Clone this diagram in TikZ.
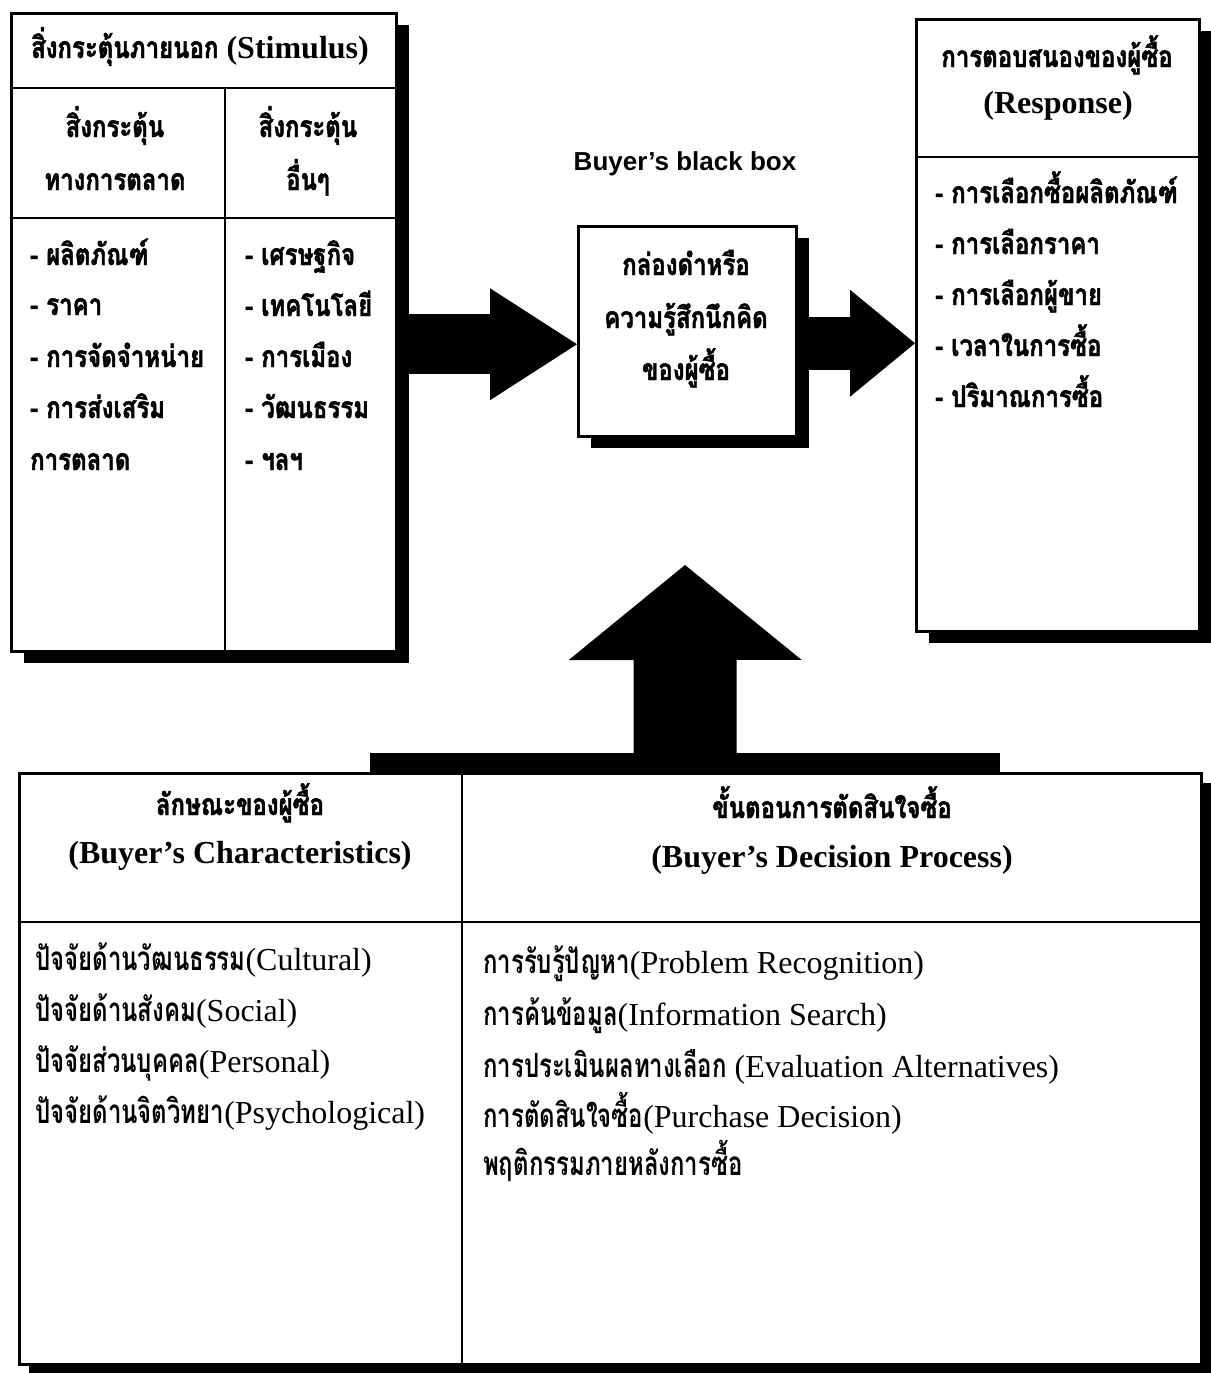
\documentclass[tikz,border=0pt]{standalone}
\usepackage{fontspec}
\setmainfont{Liberation Serif}
\newfontfamily\thaifont[Script=Thai,FakeStretch=0.8,FakeBold=1.5]{Loma}
\newfontfamily\thaifontb[Script=Thai,Scale=1.04,FakeStretch=0.72]{Loma}
\newfontfamily\sansf{Liberation Sans}
\usetikzlibrary{calc,arrows.meta,shadows}
\newcommand{\thx}[1]{{\thaifontb\bfseries #1}}
\newcommand{\thh}[1]{{\fontsize{30}{34}\selectfont\thaifont\bfseries #1}}
\begin{document}
\begin{tikzpicture}[x=1pt,y=-1pt,
  box/.style={draw=black, line width=2.5pt, fill=white, rectangle, inner sep=0pt, anchor=north west},
  shad/.style={general shadow={fill=black, shadow xshift=13pt, shadow yshift=-12pt}},
  shadsmall/.style={general shadow={fill=black, shadow xshift=10pt, shadow yshift=-10pt}},
  divline/.style={line width=2.5pt},
  thaitxt/.style={font=\fontsize{30}{34}\selectfont\thaifont\bfseries, inner sep=0pt},
  serif/.style={font=\fontsize{32}{36}\selectfont, inner sep=0pt},
  serifb/.style={font=\fontsize{32}{36}\selectfont\bfseries, inner sep=0pt},
  lft/.style={anchor=base west},
  ctr/.style={anchor=base},
  fat/.style={line width=#1, line cap=butt}
]
\useasboundingbox (0,0) rectangle (1210,1373);

% ---- boxes ----
\node[box, shad, minimum width=385pt, minimum height=638pt] (stim) at (10,12) {};
\node[box, shad, minimum width=283pt, minimum height=612pt] (resp) at (915,18) {};
\node[box, shad, minimum width=218pt, minimum height=210pt] (bbox) at (577,225) {};
\node[box, shadsmall, minimum width=1182pt, minimum height=591pt] (bottom) at (18,772) {};
\node[fill=black, inner sep=0pt, minimum width=630pt, minimum height=20pt, anchor=north west] (bar) at (370,753) {};

% internal lines
\draw[divline] (10,88) -- (395,88);
\draw[divline] (10,218) -- (395,218);
\draw[divline] (225,88) -- (225,650);
\draw[divline] (915,157) -- (1198,157);
\draw[divline] (462,772) -- (462,1363);
\draw[divline] (18,922) -- (1200,922);

% ---- arrows ----
\draw[fat=60pt, -{Triangle[length=87pt,width=112pt,line width=0pt]}]
  ($(stim.east)+(0,12)$) -- ($(bbox.west)+(0,13)$);
\draw[fat=53pt, -{Triangle[length=65pt,width=107pt,line width=0pt]}]
  ($(bbox.east)+(0,12)$) -- ($(resp.west)+(0,18)$);
\coordinate (uptip) at (685,565);
\draw[fat=103pt, -{Triangle[length=95pt,width=233pt,line width=0pt]}]
  (bar.north) -- (uptip);

% ---- stimulus texts ----
\node[serifb, ctr] (sth) at (200,58) {\thh{สิ่งกระตุ้นภายนอก} (Stimulus)};
\node[thaitxt, ctr] (sl1) at (115,137) {สิ่งกระตุ้น};
\node[thaitxt, ctr] (sl2) at (115,190) {ทางการตลาด};
\node[thaitxt, ctr] (sr1) at (308,137) {สิ่งกระตุ้น};
\node[thaitxt, ctr] (sr2) at (308,190) {อื่นๆ};
\node[thaitxt, lft] (li1) at (30,265) {- ผลิตภัณฑ์};
\node[thaitxt, lft] (li2) at (30,315) {- ราคา};
\node[thaitxt, lft] (li3) at (30,367) {- การจัดจำหน่าย};
\node[thaitxt, lft] (li4) at (30,418) {- การส่งเสริม};
\node[thaitxt, lft] (li5) at (30,470) {การตลาด};
\node[thaitxt, lft] (ri1) at (245,265) {- เศรษฐกิจ};
\node[thaitxt, lft] (ri2) at (245,316) {- เทคโนโลยี};
\node[thaitxt, lft] (ri3) at (245,367) {- การเมือง};
\node[thaitxt, lft] (ri4) at (245,418) {- วัฒนธรรม};
\node[thaitxt, lft] (ri5) at (245,470) {- ฯลฯ};

% ---- black box ----
\node[ctr, inner sep=0pt, font=\fontsize{26}{30}\selectfont\sansf\bfseries] (bbt) at (685,170) {Buyer’s black box};
\node[thaitxt, ctr] (bb1) at (686,275) {กล่องดำหรือ};
\node[thaitxt, ctr] (bb2) at (686,328) {ความรู้สึกนึกคิด};
\node[thaitxt, ctr] (bb3) at (686,380) {ของผู้ซื้อ};

% ---- response ----
\node[thaitxt, ctr] (rh1) at (1057,67) {การตอบสนองของผู้ซื้อ};
\node[serifb, ctr] (rh2) at (1058,113) {(Response)};
\node[thaitxt, lft] (re1) at (935,203) {- การเลือกซื้อผลิตภัณฑ์};
\node[thaitxt, lft] (re2) at (935,254) {- การเลือกราคา};
\node[thaitxt, lft] (re3) at (935,305) {- การเลือกผู้ขาย};
\node[thaitxt, lft] (re4) at (935,356) {- เวลาในการซื้อ};
\node[thaitxt, lft] (re5) at (935,407) {- ปริมาณการซื้อ};

% ---- bottom left ----
\node[thaitxt, ctr] (bl1) at (240,815) {ลักษณะของผู้ซื้อ};
\node[serifb, ctr] (bl2) at (240,863) {(Buyer’s Characteristics)};
\node[serif, lft] (c1) at (35,970) {\thx{ปัจจัยด้านวัฒนธรรม}(Cultural)};
\node[serif, lft] (c2) at (35,1021) {\thx{ปัจจัยด้านสังคม}(Social)};
\node[serif, lft] (c3) at (35,1072) {\thx{ปัจจัยส่วนบุคคล}(Personal)};
\node[serif, lft] (c4) at (35,1123) {\thx{ปัจจัยด้านจิตวิทยา}(Psychological)};

% ---- bottom right ----
\node[thaitxt, ctr] (br1) at (832,818) {ขั้นตอนการตัดสินใจซื้อ};
\node[serifb, ctr] (br2) at (832,867) {(Buyer’s Decision Process)};
\node[serif, lft] (d1) at (483,973) {\thx{การรับรู้ปัญหา}(Problem Recognition)};
\node[serif, lft] (d2) at (483,1025) {\thx{การค้นข้อมูล}(Information Search)};
\node[serif, lft] (d3) at (483,1077) {\thx{การประเมินผลทางเลือก} (Evaluation Alternatives)};
\node[serif, lft] (d4) at (483,1127) {\thx{การตัดสินใจซื้อ}(Purchase Decision)};
\node[serif, lft] (d5) at (483,1175) {\thx{พฤติกรรมภายหลังการซื้อ}};
\end{tikzpicture}
\end{document}
